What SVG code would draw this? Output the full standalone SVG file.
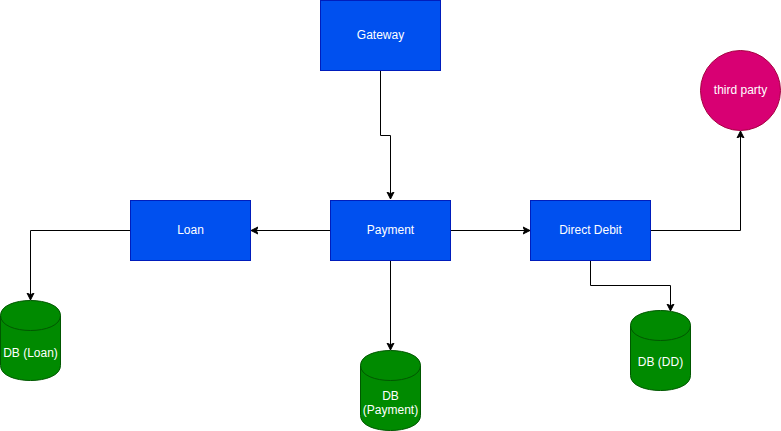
<svg xmlns="http://www.w3.org/2000/svg" width="781" height="431" viewBox="0 0 781 431">
<defs>
<style>
.blue{fill:#0050ef;stroke:#001dbc;stroke-width:1}
.green{fill:#008a00;stroke:#005700;stroke-width:1}
.pink{fill:#d80073;stroke:#a50040;stroke-width:1}
.lbl{font-family:"Liberation Sans",Arial,sans-serif;font-size:12px;fill:#ffffff;text-anchor:middle;dominant-baseline:central}
.edge{fill:none;stroke:#000000;stroke-width:1}
</style>
<marker id="arr" viewBox="0 0 10 10" refX="7" refY="5" markerWidth="10" markerHeight="10" markerUnits="userSpaceOnUse" orient="auto">
<path d="M0,1.5 L7,5 L0,8.5 L1.75,5 Z" fill="#000000" stroke="#000000" stroke-width="1"/>
</marker>
</defs>
<rect width="781" height="431" fill="#ffffff"/>
<g id="connectors">
<path class="edge" d="M380.5,70.5 L380.5,135.5 L390.5,135.5 L390.5,199" marker-end="url(#arr)"/>
<path class="edge" d="M330.5,230.5 L251,230.5" marker-end="url(#arr)"/>
<path class="edge" d="M450.5,230.5 L530,230.5" marker-end="url(#arr)"/>
<path class="edge" d="M390.5,260.5 L390.5,350" marker-end="url(#arr)"/>
<path class="edge" d="M130.5,230.5 L30.5,230.5 L30.5,300" marker-end="url(#arr)"/>
<path class="edge" d="M590.5,260.5 L590.5,285.5 L670.5,285.5 L670.5,311" marker-end="url(#arr)"/>
<path class="edge" d="M650.5,230.5 L740.5,230.5 L740.5,131" marker-end="url(#arr)"/>
</g>
<g id="gateway">
<rect class="blue" x="320.5" y="0.5" width="120" height="70"/>
<text class="lbl" x="380.5" y="35">Gateway</text>
</g>
<g id="payment">
<rect class="blue" x="330.5" y="200.5" width="120" height="60"/>
<text class="lbl" x="390.5" y="230">Payment</text>
</g>
<g id="loan">
<rect class="blue" x="130.5" y="200.5" width="120" height="60"/>
<text class="lbl" x="190.5" y="230">Loan</text>
</g>
<g id="direct-debit">
<rect class="blue" x="530.5" y="200.5" width="120" height="60"/>
<text class="lbl" x="590.5" y="230">Direct Debit</text>
</g>
<g id="third-party">
<circle class="pink" cx="740.5" cy="90.5" r="40"/>
<text class="lbl" x="740.5" y="90">third party</text>
</g>
<g id="db-loan">
<path class="green" d="M0.5,315.5 C0.5,295.5 60.5,295.5 60.5,315.5 L60.5,365.5 C60.5,385.5 0.5,385.5 0.5,365.5 Z"/>
<path class="edge" stroke="#005700" style="stroke:#005700" d="M0.5,315.5 C0.5,335.5 60.5,335.5 60.5,315.5"/>
<text class="lbl" x="30.5" y="353">DB (Loan)</text>
</g>
<g id="db-payment">
<path class="green" d="M360.5,365.5 C360.5,345.5 420.5,345.5 420.5,365.5 L420.5,415.5 C420.5,435.5 360.5,435.5 360.5,415.5 Z"/>
<path class="edge" style="stroke:#005700" d="M360.5,365.5 C360.5,385.5 420.5,385.5 420.5,365.5"/>
<text class="lbl" x="390.5" y="396">DB</text>
<text class="lbl" x="390.5" y="410">(Payment)</text>
</g>
<g id="db-dd">
<path class="green" d="M630.5,325.5 C630.5,305.5 690.5,305.5 690.5,325.5 L690.5,375.5 C690.5,395.5 630.5,395.5 630.5,375.5 Z"/>
<path class="edge" style="stroke:#005700" d="M630.5,325.5 C630.5,345.5 690.5,345.5 690.5,325.5"/>
<text class="lbl" x="660.5" y="362">DB (DD)</text>
</g>
</svg>
